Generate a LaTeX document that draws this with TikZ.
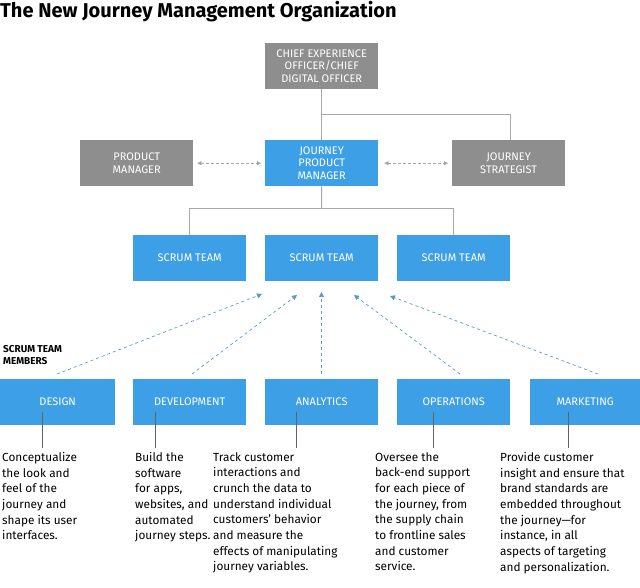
\documentclass[tikz,border=0pt]{standalone}
\usepackage{fontspec}
\setmainfont{Fira Sans}
\usetikzlibrary{arrows.meta}
\definecolor{bl}{HTML}{3D9FE6}
\definecolor{gr}{HTML}{8E8E8E}
\definecolor{ln}{HTML}{A8A8A8}
\definecolor{da}{HTML}{5A9BCF}
\begin{document}
\begin{tikzpicture}[x=1pt,y=-1pt,
 box/.style={minimum width=113pt,minimum height=46pt,inner sep=1pt,text=white,font=\fontsize{11}{12.5}\selectfont,align=center,anchor=north west},
 bb/.style={box,fill=bl}, gb/.style={box,fill=gr},
 org/.style={draw=ln,line width=1pt},
 dg/.style={densely dashed,draw=gr!80,{Triangle[length=4pt,width=4pt]}-{Triangle[length=4pt,width=4pt]}},
 db/.style={dashed,draw=da,-{Triangle[length=5pt,width=5pt]},line width=0.7pt},
 desc/.style={anchor=north west,align=left,font=\fontsize{11.8}{15.7}\selectfont,inner sep=0pt},
 tick/.style={draw=gr!70!black,line width=0.6pt}]
\useasboundingbox (0,0) rectangle (640,587);
\node[anchor=north west,inner sep=0pt,font=\bfseries\fontsize{20}{22}\selectfont] (title) at (0,1) {The New Journey Management Organization};
\node[gb] (ceo) at (265,43) {CHIEF EXPERIENCE\\OFFICER/CHIEF\\DIGITAL OFFICER};
\node[gb] (pm) at (80,140) {PRODUCT\\MANAGER};
\node[bb] (jpm) at (265,140) {JOURNEY\\PRODUCT\\MANAGER};
\node[gb] (js) at (452,140) {JOURNEY\\STRATEGIST};
\node[bb] (s1) at (133,235) {SCRUM TEAM};
\node[bb] (s2) at (265,235) {SCRUM TEAM};
\node[bb] (s3) at (397,235) {SCRUM TEAM};
\node[bb,minimum width=115pt] (de) at (0,379) {DESIGN};
\node[bb] (dv) at (133,379) {DEVELOPMENT};
\node[bb] (an) at (265,379) {ANALYTICS};
\node[bb] (op) at (397,379) {OPERATIONS};
\node[bb,minimum width=110pt] (mk) at (530,379) {MARKETING};
\coordinate (h1) at (321.5,114);
\coordinate (h2) at (510,114);
\draw[org] (ceo.south) -- (jpm.north);
\draw[org] (h1) -- (h2) -- (h2 |- js.north);
\coordinate (b0) at (321.5,208);
\coordinate (bl1) at (189.5,208);
\coordinate (br1) at (453.5,208);
\draw[org] (jpm.south) -- (b0);
\draw[org] (bl1 |- s1.north) -- (bl1) -- (br1) -- (br1 |- s3.north);
\draw[dg] ([xshift=4pt]pm.east) -- ([xshift=-4pt]jpm.west);
\draw[dg] ([xshift=6pt]jpm.east) -- ([xshift=-4pt]js.west);
\coordinate (a1) at (57,374); \coordinate (t1) at (262,294);
\coordinate (a2) at (192,374); \coordinate (t2) at (297,295);
\coordinate (a3) at (321.5,374); \coordinate (t3) at (321.5,292);
\coordinate (a4) at (460,374); \coordinate (t4) at (354,295);
\coordinate (a5) at (598,374); \coordinate (t5) at (390,296);
\foreach \i in {1,...,5} \draw[db] (a\i) -- (t\i);
\node[anchor=north west,inner sep=0pt,align=left,font=\bfseries\fontsize{10}{12}\selectfont] (stm) at (3,345) {SCRUM TEAM\\MEMBERS};
\node[desc] (d1) at (2,452) {Conceptualize\\the look and\\feel of the\\journey and\\shape its user\\interfaces.};
\node[desc] (d2) at (135,452) {Build the\\software\\for apps,\\websites, and\\automated\\journey steps.};
\node[desc] (d3) at (213,452) {Track customer\\interactions and\\crunch the data to\\understand individual\\customers’ behavior\\and measure the\\effects of manipulating\\journey variables.};
\node[desc] (d4) at (375,452) {Oversee the\\back-end support\\for each piece of\\the journey, from\\the supply chain\\to frontline sales\\and customer\\service.};
\node[desc] (d5) at (500,452) {Provide customer\\insight and ensure that\\brand standards are\\embedded throughout\\the journey—for\\instance, in all\\aspects of targeting\\and personalization.};
\foreach \x/\n in {42/de,155/dv,296/an,433/op,568/mk}
  \draw[tick] (\x,412) -- (\x,448);
\end{tikzpicture}
\end{document}
